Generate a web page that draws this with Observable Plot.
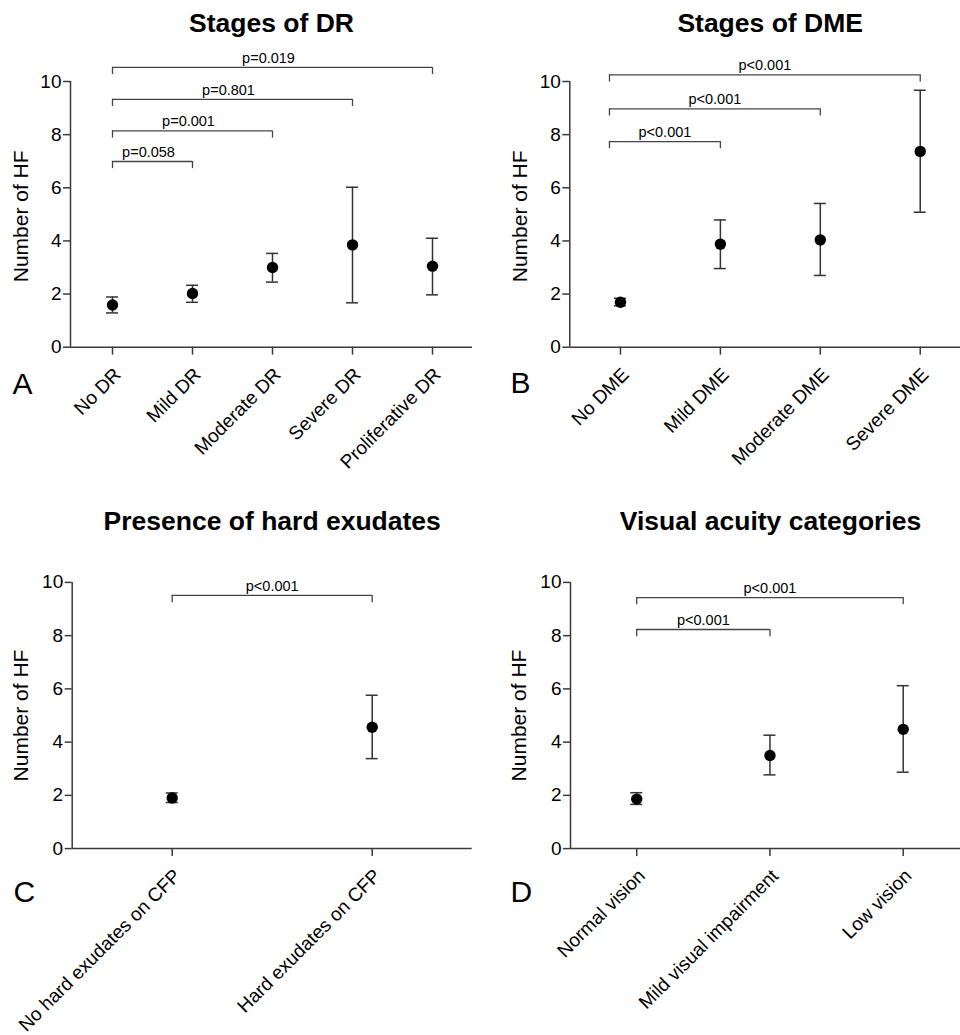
<!DOCTYPE html>
<html>
<head>
<meta charset="utf-8">
<script src="https://cdn.jsdelivr.net/npm/d3@7"></script>
<script src="https://cdn.jsdelivr.net/npm/@observablehq/plot@0.6"></script>
<style>
  body { margin: 0; background: white; }
  #wrap { position: relative; width: 960px; height: 1035px; background: white; }
  #wrap svg { position: absolute; }
</style>
</head>
<body>
<div id="wrap"></div>
<script>
// ---- Panel A: Stages of DR ----
const drCategories = ["No DR", "Mild DR", "Moderate DR", "Severe DR", "Proliferative DR"];
const drMean  = [1.59, 2.02, 3.00, 3.85, 3.05];
const drLower = [1.29, 1.69, 2.45, 1.67, 1.97];
const drUpper = [1.89, 2.33, 3.53, 6.02, 4.10];
const drBracketTo = ["Mild DR", "Moderate DR", "Severe DR", "Proliferative DR"];
const drBracketY  = [6.99, 8.14, 9.33, 10.53];
const drBracketP  = ["p=0.058", "p=0.001", "p=0.801", "p=0.019"];

// ---- Panel B: Stages of DME ----
const dmeCategories = ["No DME", "Mild DME", "Moderate DME", "Severe DME"];
const dmeMean  = [1.69, 3.88, 4.04, 7.37];
const dmeLower = [1.56, 2.96, 2.70, 5.08];
const dmeUpper = [1.84, 4.79, 5.41, 9.67];
const dmeBracketTo = ["Mild DME", "Moderate DME", "Severe DME"];
const dmeBracketY  = [7.74, 8.97, 10.25];
const dmeBracketP  = ["p<0.001", "p<0.001", "p<0.001"];

// ---- Panel C: Presence of hard exudates ----
const heCategories = ["No hard exudates on CFP", "Hard exudates on CFP"];
const heMean  = [1.90, 4.56];
const heLower = [1.73, 3.38];
const heUpper = [2.09, 5.76];
const heBracketTo = ["Hard exudates on CFP"];
const heBracketY  = [9.51];
const heBracketP  = ["p<0.001"];

// ---- Panel D: Visual acuity categories ----
const vaCategories = ["Normal vision", "Mild visual impairment", "Low vision"];
const vaMean  = [1.86, 3.50, 4.48];
const vaLower = [1.66, 2.77, 2.87];
const vaUpper = [2.10, 4.26, 6.12];
const vaBracketTo = ["Mild visual impairment", "Low vision"];
const vaBracketY  = [8.23, 9.43];
const vaBracketP  = ["p<0.001", "p<0.001"];

const yTicks = [0, 2, 4, 6, 8, 10];
const FONT = "'Liberation Sans', Arial, Helvetica, sans-serif";

function panel(cfg) {
  const rows = cfg.cats.map((c, i) => ({i, c, mean: cfg.mean[i], lo: cfg.lo[i], hi: cfg.hi[i]}));
  const br = cfg.bTo.map((t, k) => ({from: 0, to: cfg.cats.indexOf(t), y: cfg.bY[k], p: cfg.bP[k]}));
  const leg = 0.27;
  const shift = cfg.bracketShift || 0;
  const plot = Plot.plot({
    width: cfg.width,
    height: cfg.height,
    marginLeft: cfg.mL,
    marginRight: cfg.mR,
    marginTop: cfg.mT,
    marginBottom: cfg.mB,
    style: {fontFamily: FONT, background: "white", overflow: "visible", left: cfg.left + "px", top: cfg.top + "px", maxWidth: "none"},
    x: {type: "linear", domain: cfg.xDomain},
    y: {domain: [0, 10]},
    marks: [
      Plot.ruleX([cfg.xDomain[0]], {stroke: "#3a3a3a", strokeWidth: 1.5}),
      Plot.ruleY([0], {stroke: "#3a3a3a", strokeWidth: 1.5}),
      Plot.axisY({ticks: yTicks, tickSize: 7, tickPadding: 2, fontSize: 19, label: null, stroke: "#3a3a3a", strokeWidth: 1.5, fill: "black"}),
      Plot.axisX({ticks: rows.map(r => r.i), tickFormat: i => cfg.cats[i], tickSize: 8, tickPadding: 11, tickRotate: -45,
                  textAnchor: "end", lineAnchor: "top", fontSize: 19, label: null, stroke: "#3a3a3a", strokeWidth: 1.5, fill: "black"}),
      // error bars
      Plot.ruleX(rows, {x: "i", y1: "lo", y2: "hi", stroke: "#333", strokeWidth: 1.5}),
      Plot.ruleY(rows, {x1: "i", x2: "i", y: "hi", insetLeft: -6, insetRight: -6, stroke: "#333", strokeWidth: 1.5}),
      Plot.ruleY(rows, {x1: "i", x2: "i", y: "lo", insetLeft: -6, insetRight: -6, stroke: "#333", strokeWidth: 1.5}),
      Plot.dot(rows, {x: "i", y: "mean", r: 5.7, fill: "black", stroke: "none"}),
      // significance brackets
      Plot.ruleY(br, {x1: "from", x2: "to", y: "y", insetLeft: shift, stroke: "#444", strokeWidth: 1.3}),
      Plot.ruleX(br, {x: "from", y1: "y", y2: d => d.y - leg, dx: shift, stroke: "#444", strokeWidth: 1.3}),
      Plot.ruleX(br, {x: "to", y1: "y", y2: d => d.y - leg, stroke: "#444", strokeWidth: 1.3}),
      Plot.text(br, {x: d => (d.from + d.to) / 2, y: "y", text: "p", dy: -4.5, dx: shift / 2 + (cfg.pShift || 0),
                     lineAnchor: "bottom", fontSize: 14.5, fill: "black"}),
      // title
      Plot.text([cfg.title], {frameAnchor: "top", dy: cfg.titleBase - cfg.mT, dx: cfg.titleDx || 0, lineAnchor: "bottom",
                              textAnchor: "middle", fontSize: 26.5, fontWeight: "bold", fill: "black"}),
      // panel letter
      Plot.text([cfg.letter], {frameAnchor: "bottom-left", dx: cfg.letterDx, dy: cfg.letterDy, lineAnchor: "bottom",
                               textAnchor: "start", fontSize: 30, fill: "black"}),
      // y label
      Plot.text(["Number of HF"], {frameAnchor: "left", rotate: -90, dx: cfg.yLabDx, dy: cfg.yLabDy || 0,
                                   textAnchor: "middle", lineAnchor: "middle", fontSize: 21, fill: "black"})
    ]
  });
  return plot;
}

const wrap = document.getElementById("wrap");

wrap.appendChild(panel({
  cats: drCategories, mean: drMean, lo: drLower, hi: drUpper,
  bTo: drBracketTo, bY: drBracketY, bP: drBracketP,
  title: "Stages of DR", letter: "A",
  left: 0, top: 0, width: 480, height: 480,
  mL: 70, mR: 8, mT: 81, mB: 133.3, xDomain: [-0.525, 4.5],
  titleBase: 31.7, letterDx: -58, letterDy: 46.6, yLabDx: -49.5, yLabDy: 2, pShift: -4
}));

wrap.appendChild(panel({
  cats: dmeCategories, mean: dmeMean, lo: dmeLower, hi: dmeUpper,
  bTo: dmeBracketTo, bY: dmeBracketY, bP: dmeBracketP,
  title: "Stages of DME", letter: "B",
  left: 480, top: 0, width: 480, height: 480,
  mL: 89.3, mR: 0, mT: 81, mB: 133.3, xDomain: [-0.507, 3.403],
  titleBase: 31.7, titleDx: 5, letterDx: -59.3, letterDy: 46, yLabDx: -50, yLabDy: 2, bracketShift: -11
}));

wrap.appendChild(panel({
  cats: heCategories, mean: heMean, lo: heLower, hi: heUpper,
  bTo: heBracketTo, bY: heBracketY, bP: heBracketP,
  title: "Presence of hard exudates", letter: "C",
  left: 0, top: 480, width: 480, height: 555,
  mL: 71.7, mR: 8.3, mT: 101.9, mB: 186.9, xDomain: [-0.5, 1.5],
  titleBase: 49.6, letterDx: -58.7, letterDy: 53.4, yLabDx: -51
}));

wrap.appendChild(panel({
  cats: vaCategories, mean: vaMean, lo: vaLower, hi: vaUpper,
  bTo: vaBracketTo, bY: vaBracketY, bP: vaBracketP,
  title: "Visual acuity categories", letter: "D",
  left: 480, top: 480, width: 480, height: 555,
  mL: 90, mR: 0, mT: 101.9, mB: 186.9, xDomain: [-0.497, 2.43],
  titleBase: 49.6, titleDx: 5, letterDx: -60, letterDy: 53.4, yLabDx: -50.8
}));
</script>
</body>
</html>
